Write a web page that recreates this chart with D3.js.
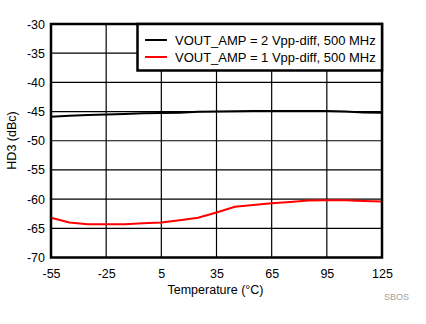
<!DOCTYPE html>
<html><head><meta charset="utf-8">
<script src="https://cdn.jsdelivr.net/npm/d3@7"></script>
<style>body{margin:0;background:#fff}svg{display:block}text{font-family:"Liberation Sans",Arial,sans-serif}</style>
</head><body><svg id="c" width="426" height="324"></svg>
<script>
const temps = [-55,-45,-35,-25,-15,-5,5,15,25,35,45,55,65,75,85,95,105,115,125];
const hd3_2vpp = [-45.9,-45.7,-45.6,-45.5,-45.4,-45.3,-45.25,-45.2,-45.05,-45.0,-44.95,-44.9,-44.9,-44.9,-44.9,-44.9,-45.0,-45.15,-45.2];
const hd3_1vpp = [-63.2,-64.0,-64.3,-64.3,-64.3,-64.15,-64.0,-63.6,-63.2,-62.3,-61.3,-61.0,-60.7,-60.5,-60.25,-60.2,-60.2,-60.3,-60.4];
const xTicks = [-55,-25,5,35,65,95,125];
const yTicks = [-70,-65,-60,-55,-50,-45,-40,-35,-30];
const seriesNames = ["VOUT_AMP = 2 Vpp-diff, 500 MHz","VOUT_AMP = 1 Vpp-diff, 500 MHz"];
const colors = ["#000000","#ff0000"];

const svg = d3.select("#c");
const L=51,R=382,T=24,B=257.5;
const x = d3.scaleLinear().domain([-55,125]).range([L,R]);
const y = d3.scaleLinear().domain([-70,-30]).range([B,T]);

// grid
const g = svg.append("g");
g.selectAll(".vx").data(xTicks).join("line").attr("x1",d=>x(d)).attr("x2",d=>x(d)).attr("y1",T).attr("y2",B).attr("stroke","#000").attr("stroke-width",1.2);
g.selectAll(".hy").data(yTicks).join("line").attr("x1",L).attr("x2",R).attr("y1",d=>y(d)).attr("y2",d=>y(d)).attr("stroke","#000").attr("stroke-width",1.2);

// axes labels via d3 axes
const fmt = d => String(d);
const xa = svg.append("g").attr("transform",`translate(0,${B})`).call(d3.axisBottom(x).tickValues(xTicks).tickSize(0).tickPadding(12).tickFormat(fmt));
xa.select(".domain").remove();
xa.selectAll("text").attr("font-size",12.5).attr("fill","#000").style("font-family","Liberation Sans, Arial, sans-serif");
const ya = svg.append("g").attr("transform",`translate(${L},0)`).call(d3.axisLeft(y).tickValues(yTicks).tickSize(0).tickPadding(6).tickFormat(fmt));
ya.select(".domain").remove();
ya.selectAll("text").attr("font-size",12.5).attr("fill","#000").style("font-family","Liberation Sans, Arial, sans-serif");

// lines
const line = d3.line().x((d,i)=>x(temps[i])).y(d=>y(d));
[hd3_2vpp,hd3_1vpp].forEach((s,k)=>{
  svg.append("path").datum(s).attr("d",line).attr("fill","none").attr("stroke",colors[k]).attr("stroke-width",2);
});

// border
svg.append("rect").attr("x",L).attr("y",T).attr("width",R-L).attr("height",B-T).attr("fill","none").attr("stroke","#000").attr("stroke-width",2.5);

// legend
const lg = svg.append("g");
lg.append("rect").attr("x",137.5).attr("y",T).attr("width",R-137.5).attr("height",46.5).attr("fill","#fff").attr("stroke","#000").attr("stroke-width",2.5);
seriesNames.forEach((n,k)=>{
  const yy = 40 + k*17;
  lg.append("line").attr("x1",145).attr("x2",167).attr("y1",yy).attr("y2",yy).attr("stroke",colors[k]).attr("stroke-width",2);
  lg.append("text").attr("x",175).attr("y",yy).attr("dy","0.35em").attr("font-size",13).attr("fill","#000").text(n);
});

// titles
svg.append("text").attr("x",215.5).attr("y",290).attr("dy","0.35em").attr("text-anchor","middle").attr("font-size",12.5).text("Temperature (°C)");
svg.append("text").attr("transform","translate(12,140.5) rotate(-90)").attr("dy","0.35em").attr("text-anchor","middle").attr("font-size",12.5).text("HD3 (dBc)");
svg.append("text").attr("x",396.5).attr("y",297).attr("dy","0.35em").attr("text-anchor","middle").attr("font-size",9).attr("fill","#a0a0a0").text("SBOS");
</script></body></html>
